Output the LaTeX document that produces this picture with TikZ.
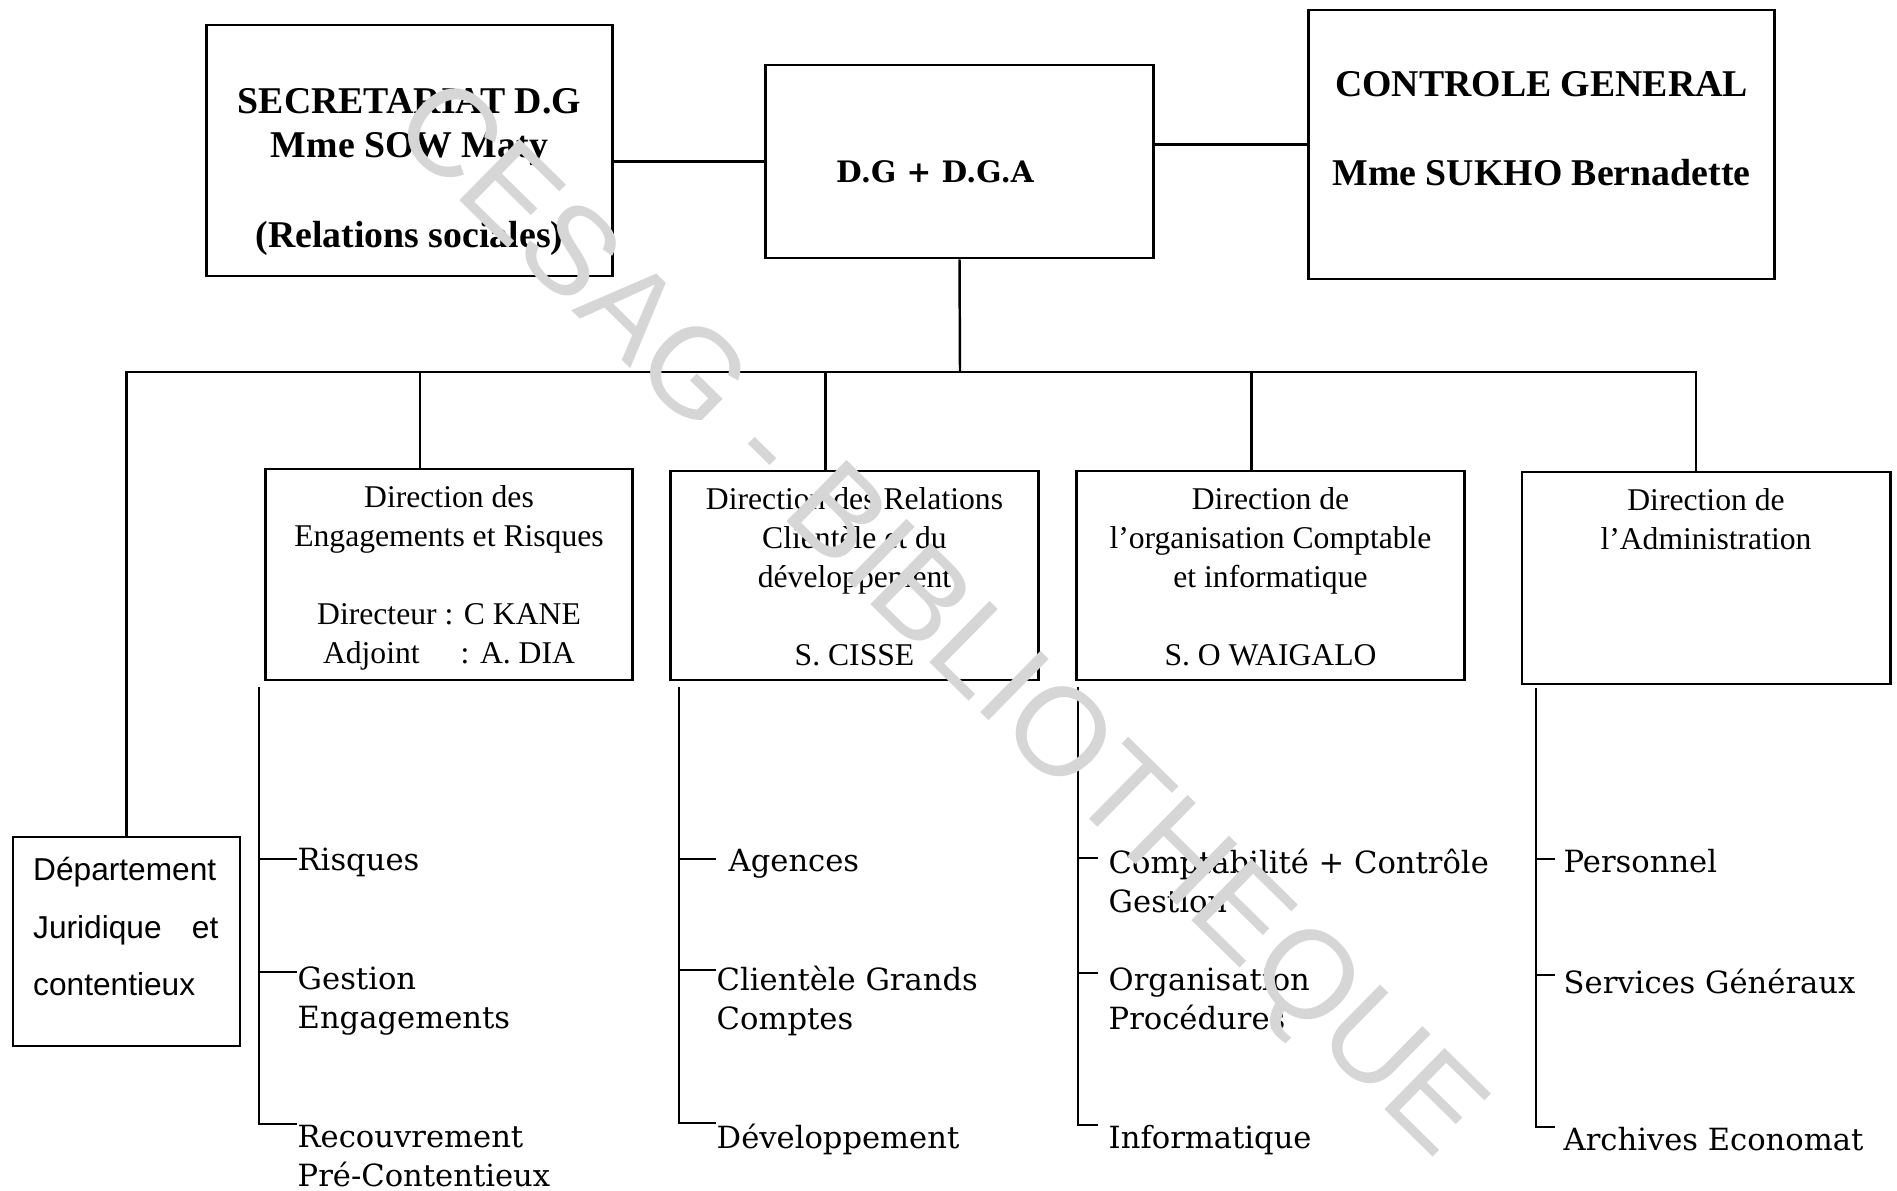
\documentclass[tikz,border=0pt]{standalone}
\usepackage{fontspec}
\setmainfont{Liberation Serif}
\newfontfamily\bkfont{DejaVu Serif}
\newfontfamily\arfont{Liberation Sans}
\usepackage{tikz}

\begin{document}
\begin{tikzpicture}[x=0.01cm,y=-0.01cm,
  box/.style={draw,line width=0.8pt,inner sep=0pt},
  link/.style={line width=0.7pt},
  hdtext/.style={inner sep=0pt,anchor=north,align=center,font=\bfseries\fontsize{10.75}{12.7}\selectfont},
  dirtext/.style={inner sep=0pt,anchor=north,align=center,font=\fontsize{9}{11.1}\selectfont},
  item/.style={inner sep=0pt,anchor=north west,align=left,font=\bkfont\fontsize{8.7}{11.2}\selectfont}]
\useasboundingbox (0,0) rectangle (1897,1191);
\node[box,minimum width=4.05cm,minimum height=2.51cm] (sec) at (409.5,150.5) {};
\node[box,minimum width=3.87cm,minimum height=1.93cm] (dg) at (959.5,161.5) {};
\node[box,minimum width=4.65cm,minimum height=2.69cm] (ctrl) at (1541.5,144.5) {};
\node[hdtext] (sectxt) at ([yshift=-0.64cm]sec.north) {SECRETARIAT D.G\\Mme SOW Maty\\[12.7pt](Relations sociales)};
\node[inner sep=0pt,font=\bkfont\bfseries\fontsize{8.4}{10}\selectfont] (dgtxt) at (935,172) {D.G + D.G.A};
\node[hdtext] (ctrltxt) at ([yshift=-0.62cm]ctrl.north) {CONTROLE GENERAL\\[12.7pt]Mme SUKHO Bernadette};
\draw[link] (sec.east |- dg.west) -- (dg.west);
\draw[link] (dg.east |- ctrl.west) -- (ctrl.west);

\node[box,minimum width=3.66cm,minimum height=2.11cm] (eng) at (449,574.5) {};
\node[box,minimum width=3.67cm,minimum height=2.09cm] (cli) at (854.5,575.5) {};
\node[box,minimum width=3.87cm,minimum height=2.09cm] (cpt) at (1270.5,575.5) {};
\node[box,minimum width=3.68cm,minimum height=2.12cm] (adm) at (1706,578) {};
\node[box,minimum width=2.27cm,minimum height=2.09cm] (jur) at (126.5,941.5) {};
\node[dirtext] (engtxt) at ([yshift=-0.17cm]eng.north) {Direction des\\Engagements et Risques\\[11.1pt]Directeur : C KANE\\Adjoint\hspace{9.4pt} : A. DIA};
\node[dirtext] (clitxt) at ([yshift=-0.17cm]cli.north) {Direction des Relations\\Clientèle et du\\développement\\[11.1pt]S. CISSE};
\node[dirtext] (cpttxt) at ([yshift=-0.17cm]cpt.north) {Direction de\\l’organisation Comptable\\et informatique\\[11.1pt]S. O WAIGALO};
\node[dirtext] (admtxt) at ([yshift=-0.17cm]adm.north) {Direction de\\l’Administration};
\node[inner sep=0pt,anchor=north west,text width=1.85cm,align=left,font=\arfont\fontsize{9}{16.4}\selectfont] (jurtxt) at ([xshift=0.21cm,yshift=-0.21cm]jur.north west) {Département\\Juridique\hfill et\\contentieux};

\coordinate (bus) at (960,372);
\coordinate (engtop) at ([xshift=-0.29cm]eng.north);
\coordinate (clitop) at ([xshift=-0.29cm]cli.north);
\coordinate (cpttop) at ([xshift=-0.19cm]cpt.north);
\coordinate (admtop) at ([xshift=-0.1cm]adm.north);
\draw[link] (dg.south) -- (bus);
\draw[link] (jur.north) |- (admtop |- bus) -- (admtop);
\draw[link] (engtop |- bus) -- (engtop);
\draw[link] (clitop |- bus) -- (clitop);
\draw[link] (cpttop |- bus) -- (cpttop);

% engagements
\coordinate (engb) at (259,687);
\node[item] (ris) at (297,847) {Risques};
\node[item] (ges) at (297,966) {Gestion\\Engagements};
\node[item] (rec) at (297,1124) {Recouvrement\\Pré-Contentieux};
\coordinate (ristk) at ([yshift=-0.12cm]ris.north west);
\coordinate (gestk) at ([yshift=-0.06cm]ges.north west);
\draw[link] (engb) |- (rec.north west);
\draw[link] (ristk) -- (ristk -| engb);
\draw[link] (gestk) -- (gestk -| engb);

% clientele
\coordinate (clib) at (679,687);
\node[item,inner xsep=0.12cm] (age) at (716,848) {Agences};
\node[item] (cgc) at (716,965) {Clientèle Grands\\Comptes};
\node[item] (dev) at (716,1123) {Développement};
\coordinate (agetk) at ([yshift=-0.11cm]age.north west);
\coordinate (cgctk) at ([yshift=-0.05cm]cgc.north west);
\draw[link] (clib) |- (dev.north west);
\draw[link] (agetk) -- (agetk -| clib);
\draw[link] (cgctk) -- (cgctk -| clib);

% comptable
\coordinate (cptb) at (1078,687);
\node[item,inner xsep=0.1cm] (cpg) at (1098,848) {Comptabilité + Contrôle\\Gestion};
\node[item,inner xsep=0.1cm] (orp) at (1098,967) {Organisation\\Procédures};
\node[item,inner xsep=0.1cm] (inf) at (1098,1125) {Informatique};
\coordinate (cpgtk) at ([yshift=-0.1cm]cpg.north west);
\coordinate (orptk) at ([yshift=-0.06cm]orp.north west);
\draw[link] (cptb) |- (inf.north west);
\draw[link] (cpgtk) -- (cpgtk -| cptb);
\draw[link] (orptk) -- (orptk -| cptb);

% administration
\coordinate (admb) at (1536,688);
\node[item,inner xsep=0.08cm] (per) at (1555,849) {Personnel};
\node[item,inner xsep=0.08cm] (svg) at (1555,968) {Services Généraux};
\node[item,inner xsep=0.08cm] (arc) at (1555,1127) {Archives Economat};
\coordinate (pertk) at ([yshift=-0.1cm]per.north west);
\coordinate (svgtk) at ([yshift=-0.07cm]svg.north west);
\draw[link] (admb) |- (arc.north west);
\draw[link] (pertk) -- (pertk -| admb);
\draw[link] (svgtk) -- (svgtk -| admb);

\node[rotate=-44.5,inner sep=0pt,text=black!16,font=\arfont\fontsize{35.5}{40}\selectfont] (wmark) at (935,623) {CESAG - BIBLIOTHEQUE};
\end{tikzpicture}
\end{document}
